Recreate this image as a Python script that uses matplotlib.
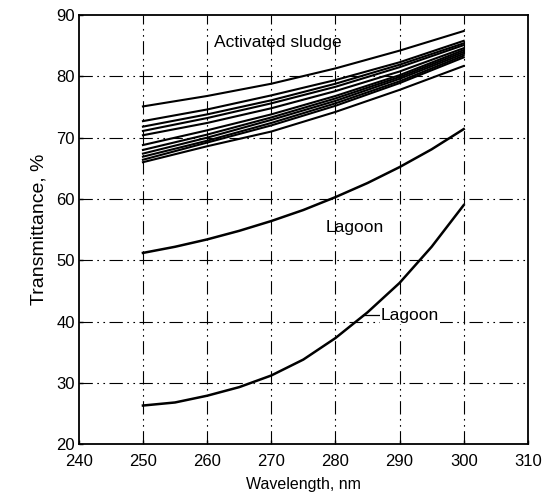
"""Transmittance vs wavelength for activated sludge and lagoon effluents."""
import matplotlib
matplotlib.use("Agg")
import matplotlib.pyplot as plt

# Wavelengths (nm) where the curves were read
wl_sludge = [250, 260, 270, 280, 290, 300]
wl_lagoon = [250, 255, 260, 265, 270, 275, 280, 285, 290, 295, 300]

# Activated sludge effluents, transmittance %
sludge_curves = [
    [75.1, 76.8, 78.8, 81.3, 84.2, 87.4],
    [72.7, 74.6, 76.9, 79.4, 82.3, 85.8],
    [71.8, 73.8, 76.1, 78.8, 81.9, 85.4],
    [71.1, 73.2, 75.6, 78.3, 81.5, 85.1],
    [70.4, 72.4, 74.8, 77.6, 80.8, 84.6],
    [68.8, 71.2, 73.8, 76.8, 80.2, 84.3],
    [68.0, 70.5, 73.3, 76.4, 79.9, 84.0],
    [67.4, 70.0, 72.9, 76.0, 79.6, 83.7],
    [66.9, 69.5, 72.4, 75.6, 79.2, 83.4],
    [66.4, 69.2, 72.0, 75.2, 78.9, 83.1],
    [66.0, 68.6, 71.0, 74.2, 77.8, 81.7],
]

# Lagoon effluents, transmittance %
lagoon_upper = [51.2, 52.2, 53.4, 54.8, 56.4, 58.2, 60.3, 62.6, 65.2, 68.1, 71.4]
lagoon_lower = [26.3, 26.8, 27.9, 29.3, 31.2, 33.8, 37.3, 41.5, 46.3, 52.2, 59.0]

x_ticks = [240, 250, 260, 270, 280, 290, 300, 310]
y_ticks = [20, 30, 40, 50, 60, 70, 80, 90]

plt.rcParams['font.family'] = ['Liberation Sans', 'DejaVu Sans']

fig = plt.figure(figsize=(5.51, 5.03), dpi=100)
ax = fig.add_axes([0.143, 0.117, 0.815, 0.853])

grid_dash = (0, (12, 4, 1.5, 4, 1.5, 4))
for xv in x_ticks[1:-1]:
    ax.plot([xv, xv], [20, 90], color='black', lw=0.8, ls=grid_dash, zorder=1)
for yv in y_ticks[1:-1]:
    ax.plot([240, 310], [yv, yv], color='black', lw=0.8, ls=grid_dash, zorder=1)

for curve in sludge_curves:
    ax.plot(wl_sludge, curve, color='black', lw=1.5, zorder=3)

ax.plot(wl_lagoon, lagoon_upper, color='black', lw=1.8, zorder=3)
ax.plot(wl_lagoon, lagoon_lower, color='black', lw=1.8, zorder=3)

ax.text(271, 85.6, 'Activated sludge', fontsize=12.5, ha='center', va='center')
ax.text(283, 55.4, 'Lagoon', fontsize=12.5, ha='center', va='center')
ax.plot([284.3, 288.0], [41, 41], color='black', lw=0.9, zorder=3)
ax.text(291.6, 41, 'Lagoon', fontsize=12.5, ha='center', va='center',
        bbox=dict(facecolor='white', edgecolor='none', pad=0.5), zorder=4)

ax.set_xlim(240, 310)
ax.set_ylim(20, 90)
ax.set_xticks(x_ticks)
ax.set_yticks(y_ticks)
ax.tick_params(direction='in', length=3, labelsize=12, width=1)
ax.tick_params(axis='x', pad=7)
ax.tick_params(axis='y', pad=3)
for spine in ax.spines.values():
    spine.set_linewidth(1.3)

ax.set_xlabel('Wavelength, nm', fontsize=11.5, labelpad=6)
ax.set_ylabel('Transmittance, %', fontsize=14, labelpad=6)

fig.savefig('out.png', dpi=100)
